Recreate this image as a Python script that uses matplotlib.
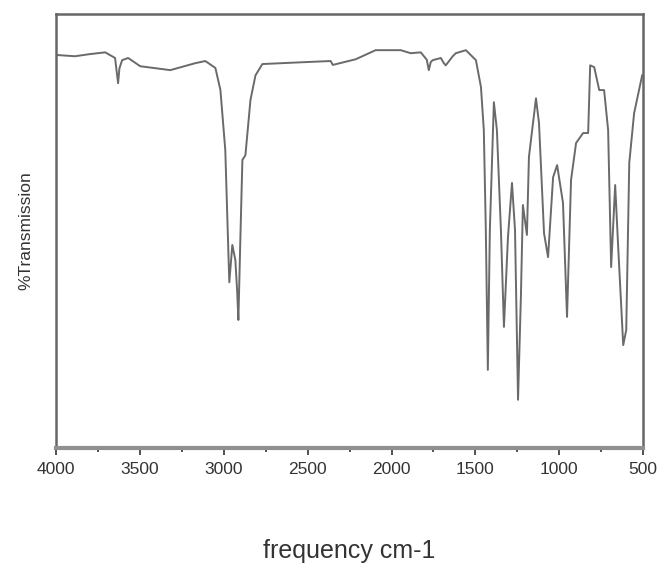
import matplotlib
matplotlib.use('Agg')
import matplotlib.pyplot as plt
from matplotlib.ticker import MultipleLocator

# IR spectrum: wavenumber (cm-1) and % transmission
wavenumber = [4000, 3887, 3797, 3707, 3648, 3636, 3630, 3622, 3606, 3570, 3498,
              3319, 3170, 3110, 3050, 3020, 2991, 2973, 2967, 2957, 2949, 2931,
              2920, 2913, 2900, 2889, 2871, 2841, 2811, 2770, 2543, 2363, 2350,
              2214, 2095, 1945, 1886, 1826, 1790, 1778, 1766, 1754, 1706, 1690,
              1677, 1635, 1617, 1557, 1497, 1467, 1450, 1438, 1426, 1414, 1390,
              1372, 1348, 1330, 1306, 1282, 1264, 1246, 1229, 1217, 1193, 1181,
              1139, 1121, 1091, 1067, 1037, 1013, 978, 954, 930, 900, 858, 828,
              816, 792, 762, 733, 709, 691, 667, 649, 619, 601, 583, 554, 506]
transmission = [90.6, 90.3, 90.8, 91.2, 89.9, 86.0, 84.1, 87.5, 89.4, 89.9, 88.0,
                87.1, 88.7, 89.2, 87.6, 82.5, 68.7, 45.6, 38.2, 43.0, 46.8, 43.3,
                36.0, 29.5, 50.0, 66.4, 67.5, 80.2, 85.9, 88.5, 88.9, 89.2, 88.3,
                89.6, 91.7, 91.7, 91.0, 91.2, 89.5, 87.1, 89.0, 89.4, 89.9, 88.8,
                88.2, 90.3, 91.0, 91.7, 89.4, 83.2, 73.3, 50.2, 18.0, 50.2, 79.7,
                73.3, 50.2, 27.9, 48.6, 61.1, 50.2, 11.1, 34.8, 56.0, 49.1, 67.1,
                80.6, 74.9, 49.5, 44.0, 62.4, 65.2, 56.5, 30.2, 61.8, 70.3, 72.6,
                72.6, 88.2, 87.8, 82.5, 82.5, 73.3, 41.7, 60.6, 46.3, 23.7, 27.2,
                65.7, 77.2, 85.9]

plt.rcParams['font.family'] = ['Liberation Sans', 'DejaVu Sans']

fig = plt.figure(figsize=(6.59, 5.67), dpi=100)
ax = fig.add_axes([0.085, 0.21, 0.891, 0.765])

ax.plot(wavenumber, transmission, color='#6a6a6a', linewidth=1.4)

ax.set_xlim(4000, 500)
ax.set_ylim(0, 100)
ax.xaxis.set_major_locator(MultipleLocator(500))
ax.xaxis.set_minor_locator(MultipleLocator(250))
ax.set_yticks([])
ax.tick_params(axis='x', which='major', direction='out', length=5, width=1.2,
               color='#333333', labelsize=12.5, labelcolor='#333333', pad=5)
ax.tick_params(axis='x', which='minor', direction='out', length=3, width=1.2,
               color='#333333')

for side in ['left', 'right', 'top']:
    ax.spines[side].set_color('#666666')
    ax.spines[side].set_linewidth(1.8)
ax.spines['bottom'].set_color('#909090')
ax.spines['bottom'].set_linewidth(3)

ax.set_ylabel('%Transmission', fontsize=12.5, color='#333333', labelpad=16)
ax.set_xlabel('frequency cm-1', fontsize=18, color='#333333', labelpad=45)

fig.savefig('out.png', dpi=100)
